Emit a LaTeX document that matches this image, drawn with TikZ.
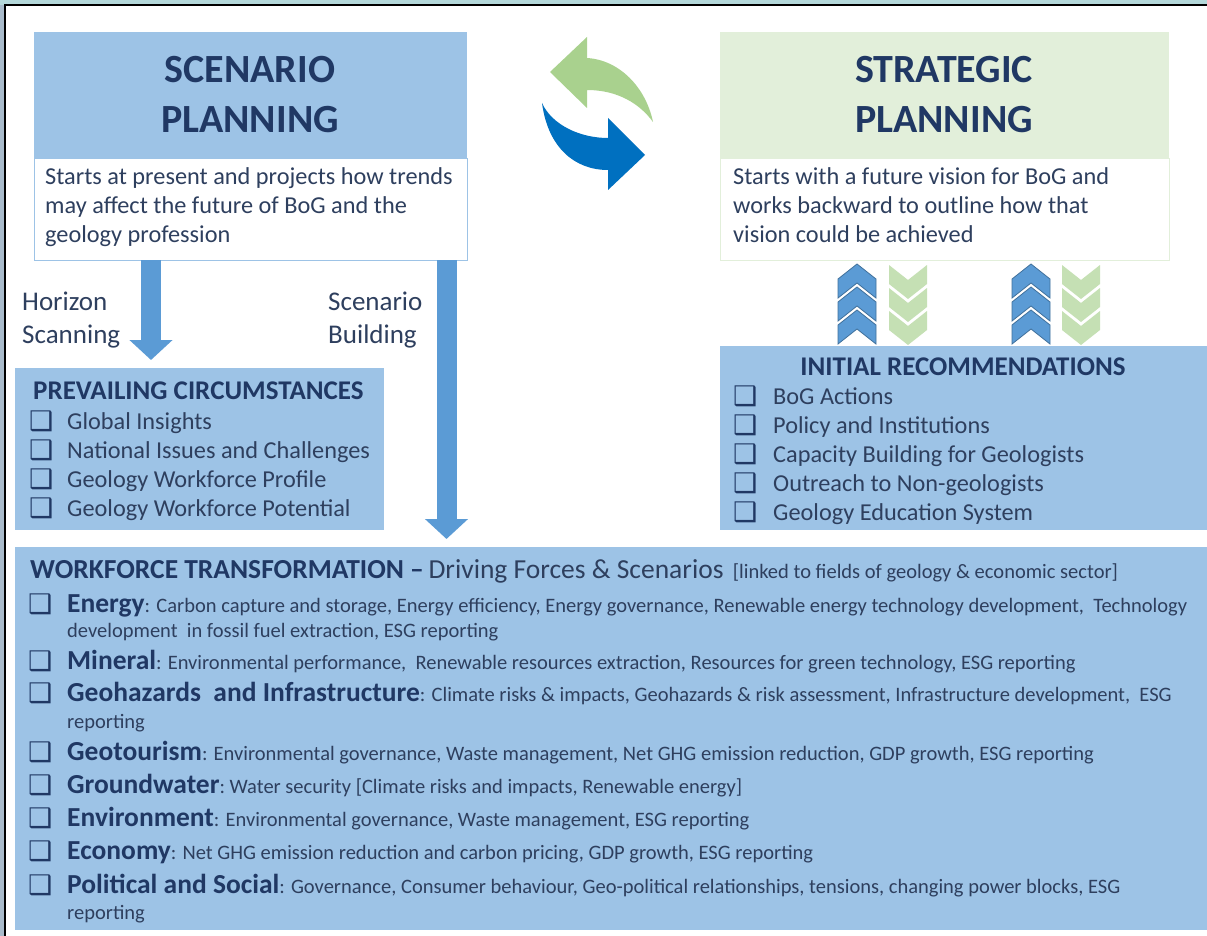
\documentclass[tikz,border=0pt]{standalone}
\usepackage{fontspec}
\setmainfont{Carlito}
\newfontfamily\symfont{DejaVu Sans}
\usetikzlibrary{arrows.meta}
\definecolor{hdrblue}{HTML}{9DC3E6}
\definecolor{hdrgreen}{HTML}{E2EFDA}
\definecolor{navy}{HTML}{203864}
\definecolor{ink}{HTML}{2E3F5E}
\definecolor{arrblue}{HTML}{5B9BD5}
\definecolor{arredge}{HTML}{41719C}
\definecolor{cycblue}{HTML}{0070C0}
\definecolor{cycgreen}{HTML}{A9D18E}
\definecolor{chvgreen}{HTML}{C5E0B4}
\definecolor{framegrey}{HTML}{A9BBCB}
\definecolor{frametop}{HTML}{B4D8DA}
\newcommand\wfhead[1]{{\color{navy}\fontsize{27.5}{33}\selectfont\bfseries #1}}

\begin{document}
\begin{tikzpicture}[x=1pt,y=-1pt,
    box/.style={anchor=north west,inner sep=0pt,outer sep=0pt},
    ttl/.style={anchor=base,inner sep=0pt,text=navy,font=\fontsize{40}{48}\selectfont\bfseries},
    txt/.style={anchor=base west,inner sep=0pt,text=ink,font=\fontsize{24.3}{29}\selectfont},
    lbl/.style={anchor=base west,inner sep=0pt,text=ink,font=\fontsize{27}{32}\selectfont},
    hd/.style={anchor=base west,inner sep=0pt,text=navy,font=\fontsize{27}{32}\selectfont\bfseries},
    chk/.style={anchor=base west,inner sep=0pt,text=navy,font=\fontsize{27}{32}\symfont\bfseries},
    wf/.style={anchor=base west,inner sep=0pt,text=ink,font=\fontsize{20.5}{25}\selectfont},
    bigarrow/.style={draw=arrblue,line width=20pt,-{Triangle[width=42pt,length=20pt]},shorten >=8pt}
  ]
  \useasboundingbox (0,0) rectangle (1207,936);

  % screen frame
  \fill[framegrey] (0,0) rectangle (1207,936);
  \fill[frametop] (0,0) rectangle (1207,5);
  \fill[white] (5,5) rectangle (1207,936);
  \draw[line width=2.5pt] (5,936) -- (5,5) -- (1207,5);

  % boxes
  \node[box,fill=hdrblue,minimum width=433pt,minimum height=126pt] (scenhead) at (34,32) {};
  \node[box,draw=hdrblue,fill=white,minimum width=433pt,minimum height=102pt] (scendesc) at (34,158) {};
  \node[box,fill=hdrgreen,minimum width=449pt,minimum height=126pt] (strathead) at (720,32) {};
  \node[box,draw=hdrgreen,fill=white,minimum width=449pt,minimum height=102pt] (stratdesc) at (720,158) {};
  \node[box,fill=hdrblue,minimum width=369pt,minimum height=162pt] (prev) at (15,368) {};
  \node[box,fill=hdrblue,minimum width=487pt,minimum height=184pt] (recom) at (720,346) {};
  \node[box,fill=hdrblue,minimum width=1192pt,minimum height=383pt] (work) at (15,547) {};

  % headers
  \node[ttl] (scent1) at (250,83) {SCENARIO};
  \node[ttl] (scent2) at (250,133) {PLANNING};
  \node[ttl] (strat1) at (944,83) {STRATEGIC};
  \node[ttl] (strat2) at (944,133) {PLANNING};

  \node[txt] (scend1) at (45,185) {Starts at present and projects how trends};
  \node[txt] (scend2) at (45,214) {may affect the future of BoG and the};
  \node[txt] (scend3) at (45,243) {geology profession};
  \node[txt] (stratd1) at (733,185) {Starts with a future vision for BoG and};
  \node[txt] (stratd2) at (733,214) {works backward to outline how that};
  \node[txt] (stratd3) at (733,243) {vision could be achieved};

  % cycle arrows
  \fill[cycgreen] (550,72) -- (587,37) -- (587,58) .. controls (620,60) and (646,88) .. (653,122)
    .. controls (640,104) and (618,90) .. (587,90) -- (587,108) -- cycle;
  \fill[cycblue] (542,103) .. controls (552,125) and (580,138) .. (608,138) -- (608,118) -- (645,155)
    -- (608,190) -- (608,170) .. controls (575,170) and (548,148) .. (542,103) -- cycle;

  % down arrows
  \draw[bigarrow] ([xshift=117pt]scendesc.south west) coordinate (hs) -- (hs |- prev.north);
  \draw[bigarrow] ([xshift=412.5pt]scendesc.south west) coordinate (bs) -- (bs |- work.north);
  \node[lbl] (hor1) at (22,310) {Horizon};
  \node[lbl] (hor2) at (22,343) {Scanning};
  \node[lbl] (bld1) at (328,310) {Scenario};
  \node[lbl] (bld2) at (328,343) {Building};

  % chevrons
  \foreach \cx in {838,1012}
    \foreach \cy in {264,287,310}
      \filldraw[fill=arrblue,draw=arredge,line width=0.8pt] (\cx,\cy+15) -- (\cx+19,\cy) -- (\cx+38,\cy+15)
        -- (\cx+38,\cy+34) -- (\cx+19,\cy+19) -- (\cx,\cy+34) -- cycle;
  \foreach \cx in {889,1062}
    \foreach \cy in {265,288,311}
      \fill[chvgreen] (\cx,\cy) -- (\cx+19,\cy+15) -- (\cx+38,\cy) -- (\cx+38,\cy+19)
        -- (\cx+19,\cy+34) -- (\cx,\cy+19) -- cycle;

  % prevailing circumstances
  \node[hd] (prevt) at (33,399) {PREVAILING CIRCUMSTANCES};
  \node[chk] (pc1) at (29,430) {❑};
  \node[txt] (pi1) at (67,429) {Global Insights};
  \node[chk] (pc2) at (29,459) {❑};
  \node[txt] (pi2) at (67,458) {National Issues and Challenges};
  \node[chk] (pc3) at (29,488) {❑};
  \node[txt] (pi3) at (67,487) {Geology Workforce Profile};
  \node[chk] (pc4) at (29,517) {❑};
  \node[txt] (pi4) at (67,516) {Geology Workforce Potential};

  % initial recommendations
  \node[hd,anchor=base] (recomt) at (963,375) {INITIAL RECOMMENDATIONS};
  \node[chk] (rc1) at (733,405) {❑};
  \node[txt] (ri1) at (773,404) {BoG Actions};
  \node[chk] (rc2) at (733,434) {❑};
  \node[txt] (ri2) at (773,433) {Policy and Institutions};
  \node[chk] (rc3) at (733,463) {❑};
  \node[txt] (ri3) at (773,462) {Capacity Building for Geologists};
  \node[chk] (rc4) at (733,492) {❑};
  \node[txt] (ri4) at (773,491) {Outreach to Non-geologists};
  \node[chk] (rc5) at (733,521) {❑};
  \node[txt] (ri5) at (773,520) {Geology Education System};

  % workforce transformation
  \node[wf] (workt) at (30,578) {\wfhead{WORKFORCE TRANSFORMATION \textendash} {\fontsize{27.5}{33}\selectfont Driving Forces \& Scenarios}\ \ [linked to fields of geology \& economic sector]};
  \node[chk] (wc1) at (28,613) {❑};
  \node[wf] (wi1) at (67,612) {\wfhead{Energy}: Carbon capture and storage, Energy efficiency, Energy governance, Renewable energy technology development,\ \ Technology};
  \node[wf] (wi1b) at (67,637) {development\ \ in fossil fuel extraction, ESG reporting};
  \node[chk] (wc2) at (28,670) {❑};
  \node[wf] (wi2) at (67,669) {\wfhead{Mineral}: Environmental performance,\ \ Renewable resources extraction, Resources for green technology, ESG reporting};
  \node[chk] (wc3) at (28,702) {❑};
  \node[wf] (wi3) at (67,701) {\wfhead{Geohazards\ \ and Infrastructure}: Climate risks \& impacts, Geohazards \& risk assessment, Infrastructure development,\ \ ESG};
  \node[wf] (wi3b) at (67,728) {reporting};
  \node[chk] (wc4) at (28,761) {❑};
  \node[wf] (wi4) at (67,760) {\wfhead{Geotourism}: Environmental governance, Waste management, Net GHG emission reduction, GDP growth, ESG reporting};
  \node[chk] (wc5) at (28,794) {❑};
  \node[wf] (wi5) at (67,793) {\wfhead{Groundwater}:\ Water security [Climate risks and impacts, Renewable energy]};
  \node[chk] (wc6) at (28,827) {❑};
  \node[wf] (wi6) at (67,826) {\wfhead{Environment}: Environmental governance, Waste management, ESG reporting};
  \node[chk] (wc7) at (28,860) {❑};
  \node[wf] (wi7) at (67,859) {\wfhead{Economy}: Net GHG emission reduction and carbon pricing, GDP growth, ESG reporting};
  \node[chk] (wc8) at (28,894) {❑};
  \node[wf] (wi8) at (67,893) {\wfhead{Political and Social}: Governance, Consumer behaviour, Geo-political relationships, tensions, changing power blocks, ESG};
  \node[wf] (wi8b) at (67,919) {reporting};
\end{tikzpicture}
\end{document}
